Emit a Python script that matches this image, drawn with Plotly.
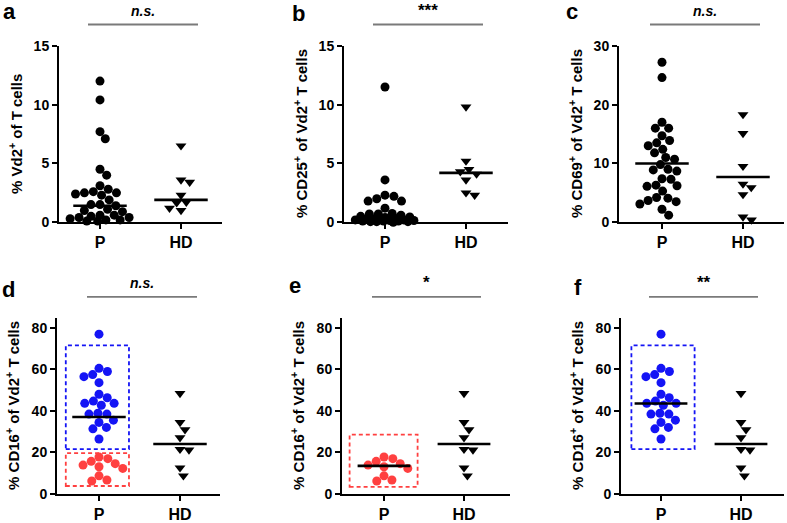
import numpy as np
import plotly.graph_objects as go

W, H = 787, 523
groups = ["P", "HD"]

# ---------------- data ----------------
a_P = [12.0, 10.4, 7.7, 7.1, 4.5, 4.0, 3.1, 2.8, 2.6, 2.5, 2.5, 2.4, 2.3, 1.9, 1.5,
       1.4, 1.5, 1.1, 1.0, 0.9, 0.6, 0.6, 0.5, 0.4, 0.4, 0.3, 0.2, 0.2, 0.1, 0.1]
a_HD = [6.5, 3.6, 3.4, 2.3, 1.7, 1.65, 1.2, 1.0]
a_center = [1.4, 1.9]

b_P = [11.5, 3.6, 2.3, 2.2, 2.0, 1.8, 1.8, 1.2, 0.75, 0.7, 0.7, 0.6, 0.5, 0.45, 0.4,
       0.35, 0.3, 0.3, 0.25, 0.2, 0.2, 0.15, 0.15, 0.1, 0.1, 0.1, 0.05, 0.05, 0.05, 0.0]
b_HD = [9.8, 5.2, 4.5, 4.3, 4.1, 3.6, 2.5, 2.3]
b_center = [0.4, 4.2]

c_P = [27.2, 24.6, 17.0, 16.0, 16.0, 14.7, 13.9, 13.5, 13.0, 12.4, 11.8, 11.0, 10.7, 9.8, 9.0,
       8.9, 8.7, 7.4, 7.3, 6.3, 6.2, 6.1, 5.3, 4.2, 4.1, 3.7, 3.5, 3.1, 2.2, 1.2]
c_HD = [18.3, 15.1, 9.5, 6.5, 5.9, 4.7, 0.9, 0.4]
c_center = [10.0, 7.7]

cd16_high = [77.0, 60.5, 59.0, 57.5, 56.5, 53.6, 48.0, 46.3, 44.7, 43.6,
             43.6, 42.7, 38.8, 38.4, 38.4, 35.5, 34.4, 32.0, 31.3, 26.4]
cd16_low = [17.7, 16.9, 15.6, 14.5, 13.8, 13.0, 12.2, 8.6, 6.6, 6.1]
cd16_HD = [48.4, 34.4, 30.9, 27.0, 21.4, 21.1, 12.5, 8.6]
d_center = [37.0, 24.0]
e_center = [13.4, 24.0]
f_center = [43.5, 24.0]

sig_labels = ["<i>n.s.</i>", "***", "<i>n.s.</i>", "<i>n.s.</i>", "*", "**"]
letters = ["a", "b", "c", "d", "e", "f"]

ytitles = [
    "% Vd2<sup>+</sup> of T cells",
    "% CD25<sup>+</sup> of Vd2<sup>+</sup> T cells",
    "% CD69<sup>+</sup> of Vd2<sup>+</sup> T cells",
    "% CD16<sup>+</sup> of Vd2<sup>+</sup> T cells",
    "% CD16<sup>+</sup> of Vd2<sup>+</sup> T cells",
    "% CD16<sup>+</sup> of Vd2<sup>+</sup> T cells",
]
yticks_top_ab = [0, 5, 10, 15]
yticks_top_c = [0, 10, 20, 30]
yticks_bottom = [0, 20, 40, 60, 80]

BLUE = "#1414f5"
RED = "#ff4040"
FONT = "Liberation Sans, Arial, sans-serif"

# ---------------- layout geometry (pixels) ----------------
# axis_x, P_x, HD_x, end_x, top_y, bottom_y, ymax
geo = [
    (59, 100, 181, 222, 39, 221, 15),
    (344, 385, 466, 508, 39, 221, 15),
    (619, 662, 743, 784, 39, 221, 30),
    (57, 99, 180, 220, 320, 501, 84.7),
    (342, 384, 464, 510, 320, 501, 84.7),
    (621, 661, 741, 784, 320, 501, 84.7),
]
ytickvals = [yticks_top_ab, yticks_top_ab, yticks_top_c, yticks_bottom, yticks_bottom, yticks_bottom]


def swarm(vals, ypx, xpx, d=9.0, maxw=30.0):
    v = np.asarray(vals, float)
    order = np.argsort(-v, kind="stable")
    placed = []
    out = np.zeros(len(v))
    for i in order:
        y = v[i] * ypx
        dd = d
        while True:
            forb = []
            for px_, py_ in placed:
                dy = abs(py_ - y)
                if dy < dd:
                    dx = np.sqrt(dd * dd - dy * dy)
                    forb.append((px_ - dx, px_ + dx))
            cands = [0.0] + [e for f in forb for e in f]
            cands = sorted(set(cands), key=lambda c: (abs(c), -c))
            x = None
            for c in cands:
                if abs(c) > maxw:
                    break
                if all(not (lo + 1e-6 < c < hi - 1e-6) for lo, hi in forb):
                    x = c
                    break
            if x is not None:
                break
            dd *= 0.85
        placed.append((x, y))
        out[i] = x / xpx
    return out


def px(xp):
    return xp / W


def py(yp):
    return 1 - yp / H


fig = go.Figure()

# panel contents: list of (group index, values, color, symbol)
panels = [
    [(0, a_P, "black", "circle"), (1, a_HD, "black", "triangle-down")],
    [(0, b_P, "black", "circle"), (1, b_HD, "black", "triangle-down")],
    [(0, c_P, "black", "circle"), (1, c_HD, "black", "triangle-down")],
    [(0, cd16_high + cd16_low, None, "circle"), (1, cd16_HD, "black", "triangle-down")],
    [(0, cd16_low, RED, "circle"), (1, cd16_HD, "black", "triangle-down")],
    [(0, cd16_high, BLUE, "circle"), (1, cd16_HD, "black", "triangle-down")],
]
centers = [a_center, b_center, c_center, d_center, e_center, f_center]

# dashed boxes (data units): panel, x0, x1, y0, y1, color
boxes = [
    (3, -0.41, 0.37, 21.5, 71.6, BLUE),
    (3, -0.41, 0.37, 3.7, 19.6, RED),
    (4, -0.43, 0.42, 3.3, 28.5, RED),
    (5, -0.37, 0.42, 21.5, 71.6, BLUE),
]

annotations = []
shapes = []
for k in range(6):
    ax_x, p_x, hd_x, end_x, top_y, bot_y, ymax = geo[k]
    xpx = hd_x - p_x
    ypx = (bot_y - top_y) / ymax
    xr = [(ax_x - p_x) / xpx, (end_x - p_x) / xpx]
    xa = "x" if k == 0 else f"x{k+1}"
    ya = "y" if k == 0 else f"y{k+1}"
    xkey = "xaxis" if k == 0 else f"xaxis{k+1}"
    ykey = "yaxis" if k == 0 else f"yaxis{k+1}"
    fig.layout[xkey] = dict(
        domain=[px(ax_x), px(end_x)], range=xr, anchor=ya,
        tickvals=[0, 1], ticktext=groups, showline=True, linecolor="black", linewidth=2,
        ticks="outside", ticklen=5, tickwidth=2, tickcolor="black", showgrid=False, zeroline=False,
        tickfont=dict(family=FONT, size=16, color="black", weight="bold"),
    )
    fig.layout[ykey] = dict(
        domain=[py(bot_y), py(top_y)], range=[0, ymax], anchor=xa,
        tickvals=ytickvals[k], showline=True, linecolor="black", linewidth=2,
        ticks="outside", ticklen=5, tickwidth=2, tickcolor="black", showgrid=False, zeroline=False,
        tickfont=dict(family=FONT, size=14, color="black", weight="bold"),
    )
    # points
    for gi, vals, color, sym in panels[k]:
        offs = swarm(vals, ypx, xpx, d=9.0, maxw=30.0)
        xs = gi + offs
        if color is None:
            cols = [BLUE if v in cd16_high else RED for v in vals]
        else:
            cols = color
        fig.add_trace(go.Scatter(
            x=xs, y=vals, mode="markers", xaxis=xa, yaxis=ya, cliponaxis=False,
            marker=dict(symbol=sym, size=9 if sym == "circle" else 9.5, color=cols, line=dict(width=0)),
            showlegend=False, hoverinfo="y"))
    # center lines
    for gi, cv in enumerate(centers[k]):
        fig.add_trace(go.Scatter(
            x=[gi - 0.33, gi + 0.33], y=[cv, cv], mode="lines", xaxis=xa, yaxis=ya,
            line=dict(color="black", width=2.6), showlegend=False, hoverinfo="skip"))
    # significance bar
    bx0, bx1 = p_x - 12, hd_x + 17
    bar_y = 17 if k < 3 else 298
    shapes.append(dict(type="line", xref="paper", yref="paper", x0=px(bx0), x1=px(bx1),
                       y0=py(bar_y), y1=py(bar_y), line=dict(color="#7a7a7a", width=1.8)))
    is_star = "*" in sig_labels[k]
    annotations.append(dict(
        text=sig_labels[k], xref="paper", yref="paper", x=px((bx0 + bx1) / 2),
        y=py(bar_y - (3 if is_star else 4)), xanchor="center", yanchor="bottom", showarrow=False,
        font=dict(family=FONT, size=17 if is_star else 14, color="black", weight="bold")))
    # y title
    annotations.append(dict(
        text=ytitles[k], xref="paper", yref="paper", x=px(ax_x - 44), y=py((top_y + bot_y) / 2),
        xanchor="center", yanchor="middle", textangle=-90, showarrow=False,
        font=dict(family=FONT, size=15, color="black", weight="bold")))

# boxes
for k, x0, x1, y0, y1, col in boxes:
    xa = "x" if k == 0 else f"x{k+1}"
    ya = "y" if k == 0 else f"y{k+1}"
    shapes.append(dict(type="rect", xref=xa, yref=ya, x0=x0, x1=x1, y0=y0, y1=y1,
                       line=dict(color=col, width=1.8, dash="4px,3px"), layer="below"))

# panel letters: (x center px, baseline px)
letter_pos = [(9, 14), (298, 16), (572, 14), (8, 300), (295, 296), (578, 298)]
for (lx, ly), lt in zip(letter_pos, letters):
    annotations.append(dict(
        text=lt, xref="paper", yref="paper", x=px(lx), y=py(ly + 5), xanchor="center",
        yanchor="bottom", showarrow=False,
        font=dict(family=FONT, size=22, color="black", weight="bold")))

fig.update_layout(
    width=W, height=H, margin=dict(l=0, r=0, t=0, b=0),
    paper_bgcolor="white", plot_bgcolor="white",
    annotations=annotations, shapes=shapes,
    font=dict(family=FONT, color="black"),
)

fig.write_html("out.html", config={"displayModeBar": False},
               post_script="document.body.style.margin='0px';document.body.style.padding='0px';")
